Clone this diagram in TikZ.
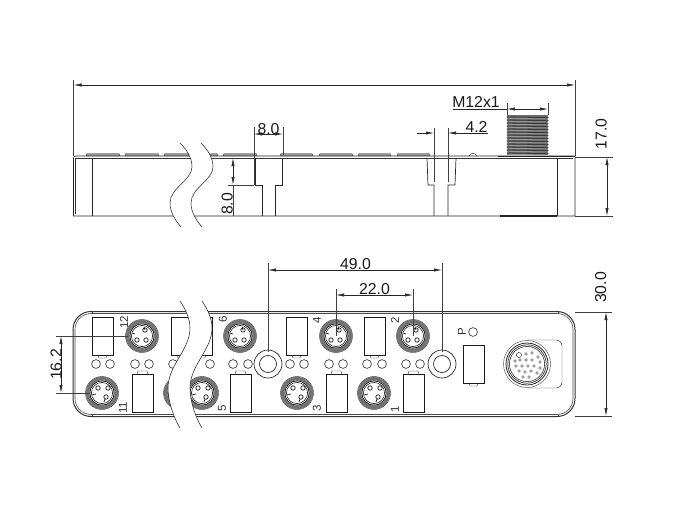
\documentclass[tikz,border=0pt]{standalone}
\usepackage{fontspec}
\setmainfont{Liberation Sans}
\usetikzlibrary{arrows.meta}
\tikzset{
 edge/.style={line width=0.7pt,black!85},
 fine/.style={line width=0.45pt,black!80},
 dimline/.style={line width=0.6pt,black!85,{Latex[length=8pt,width=3.2pt]}-{Latex[length=8pt,width=3.2pt]}},
 onearrow/.style={line width=0.6pt,black!85,-{Latex[length=8pt,width=3.2pt]}},
 extline/.style={line width=0.5pt,black!75},
 dimtext/.style={inner sep=0pt,anchor=base,font=\fontsize{15.8}{16}\selectfont,text=black!90},
 tag/.style={inner sep=0pt,rotate=90,font=\fontsize{11.5}{11.5}\selectfont,text=black!80},
 window/.style={line width=0.9pt,black!90,fill=white},
 ledring/.style={line width=0.6pt,black!85,fill=white},
 breakline/.style={line width=0.55pt,black!85},
}
\newcommand{\topconn}[2]{\begin{scope}[shift={(#1,#2)}]
 \fill[white] (0,0) circle (16.5);
 \draw[line width=3.4pt,black!55] (0,0) circle (14.4);
 \draw[fine] (0,0) circle (16.5);
 \draw[line width=0.8pt,black!90] (0,0) circle (12.2);
 \draw[line width=0.6pt,black!85] (0,0) circle (10.6);
 \foreach \a/\b in {3/-6,-5/4,4/4}{\draw[line width=0.7pt,black!90] (\a,\b) circle (2.2);}
 \draw[line width=0.7pt,black!90] (2,-9) -- (3,-6) (-10,-3) -- (-7,-2);
\end{scope}}
\newcommand{\botconn}[2]{\begin{scope}[shift={(#1,#2)}]
 \fill[white] (0,0) circle (16.5);
 \draw[line width=3.4pt,black!55] (0,0) circle (14.4);
 \draw[fine] (0,0) circle (16.5);
 \draw[line width=0.8pt,black!90] (0,0) circle (12.2);
 \draw[line width=0.6pt,black!85] (0,0) circle (10.6);
 \foreach \a/\b in {6/-5,-4/-5,4/4}{\draw[line width=0.7pt,black!90] (\a,\b) circle (2.2);}
 \draw[line width=0.7pt,black!90] (-10,2) -- (-6,1) (2,9) -- (3,6);
\end{scope}}
\begin{document}
\begin{tikzpicture}[x=1pt,y=-1pt]
\useasboundingbox (0,0) rectangle (690,516);

% ---- side view: pads
\foreach \a/\b in {86/120,125/159,164/189,210/218,223/257,280/313,319/353,358/391,397/430}{
 \fill[black!40] (\a,156) -- (\a+1,153.5) -- (\b-1,153.5) -- (\b,156) -- cycle;
 \draw[fine] (\a,156) -- (\a+1,153.5) -- (\b-1,153.5) -- (\b,156);
}
\draw[fine] (469,156) .. controls (471,152.5) and (475,152.5) .. (477,156);
% thread
\fill[black!58] (507,115.5) rectangle (548,154.5);
\foreach \y in {117,120,...,153}{
 \draw[line width=0.8pt,black!78] (506.5,\y) -- (548.5,\y+0.7);
 \draw[line width=0.5pt,black!30] (509,\y+1.5) -- (546,\y+1.9);
 \fill[white] (506.2,\y+1) -- (507.8,\y+2) -- (506.2,\y+3) -- cycle;
 \fill[white] (548.8,\y+1) -- (547.2,\y+2) -- (548.8,\y+3) -- cycle;
}
% body
\draw[edge] (73.5,216) -- (73.5,158.5) .. controls (73.5,157) and (74.5,156) .. (76,156) -- (575,156) -- (575,216) -- cycle;
\draw[fine] (75.5,158) -- (573,158);
\draw[fine] (75.5,158) -- (75.5,214);
\draw[line width=0.9pt,black!85] (498,156) -- (575,156);
\draw[line width=1.1pt,black!85] (500,216) -- (557,216);
\draw[edge] (92,158) -- (92,216);
\draw[edge] (557,158) -- (557,216);
\draw[edge] (255,158) -- (255,185) -- (262,185) -- (262,216);
\draw[edge] (282,158) -- (282,185) -- (275,185) -- (275,216);
\draw[edge] (427,158) -- (428,185) -- (434,185) -- (434,216);
\draw[edge] (456,158) -- (455,185) -- (448,185) -- (448,216);

% side break
\fill[white] (180,143) .. controls (187,150) and (192,158) .. (192,167) .. controls (192,180) and (170,188) .. (170,203) .. controls (170,212) and (175,220) .. (181,227)
 -- (202,227) .. controls (196,220) and (191,212) .. (191,203) .. controls (191,188) and (213,180) .. (213,167) .. controls (213,158) and (208,150) .. (201,143) -- cycle;
\draw[breakline] (180,143) .. controls (187,150) and (192,158) .. (192,167) .. controls (192,180) and (170,188) .. (170,203) .. controls (170,212) and (175,220) .. (181,227);
\draw[breakline] (201,143) .. controls (208,150) and (213,158) .. (213,167) .. controls (213,180) and (191,188) .. (191,203) .. controls (191,212) and (196,220) .. (202,227);

% side dims
\coordinate (ovL) at (73.5,85); \coordinate (ovR) at (575,85);
\draw[extline] (73.5,80) -- (73.5,156);
\draw[extline] (575,80) -- (575,156);
\draw[dimline] (ovL) -- (ovR);
% 8.0 width
\coordinate (wL) at (254,134); \coordinate (wR) at (283,134);
\draw[extline] (254,127) -- (254,185);
\draw[extline] (283,127) -- (283,155);
\draw[dimline] (wL) -- (wR);
\node[dimtext] (t8a) at (268.5,134) {8.0};
% 8.0 depth
\coordinate (dT) at (233,158); \coordinate (dB) at (233,185);
\draw[dimline] (dT) -- (dB);
\draw[extline] (233,185) -- (233,216);
\draw[extline] (228,185) -- (254,185);
\node[dimtext,rotate=90] (t8b) at (232.5,204) {8.0};
% 4.2
\coordinate (fL) at (417,133); \coordinate (fLt) at (434,133);
\coordinate (fR) at (488,133); \coordinate (fRt) at (448,133);
\draw[extline] (434,128) -- (434,182);
\draw[extline] (448,128) -- (448,182);
\draw[onearrow] (fL) -- (fLt);
\draw[onearrow] (fR) -- (fRt);
\node[dimtext] (t42) at (476.5,132) {4.2};
% M12x1
\coordinate (mL) at (507,109); \coordinate (mR) at (548,109); \coordinate (mE) at (453,109);
\draw[extline] (507,103) -- (507,115);
\draw[extline] (548,103) -- (548,115);
\draw[dimline] (mL) -- (mR);
\draw[line width=0.6pt,black!85] (mE) -- (mL);
\node[dimtext] (tm) at (476,108) {M12x1};
% 17.0
\coordinate (hT) at (607,157); \coordinate (hB) at (607,216);
\draw[extline] (575,157) -- (613,157);
\draw[extline] (575,216) -- (613,216);
\draw[dimline] (hT) -- (hB);
\node[dimtext,rotate=90] (t17) at (606.5,134) {17.0};

% ---- front view
\draw[line width=1.0pt,black!80,rounded corners=18pt] (73,311.5) rectangle (575,416.5);
\draw[line width=0.6pt,black!70,rounded corners=16pt] (75,313.5) rectangle (573,414.5);
\draw[fine] (92,311.5) -- (92,313.5) (92,414.5) -- (92,416.5) (558,311.5) -- (558,313.5) (558,414.5) -- (558,416.5);

% windows
\foreach \a in {92,171,191,286,364,463}{
 \ifnum\a=463\relax
  \draw[fine] (\a+6,383) -- (\a+7,386) -- (\a+14,386) -- (\a+15,383);
  \draw[window] (\a,345) rectangle (\a+21,383);
 \else
  \draw[fine] (\a+6,355) -- (\a+7,358) -- (\a+14,358) -- (\a+15,355);
  \draw[window] (\a,317) rectangle (\a+21,355);
 \fi
}
\foreach \a in {132,230,326,403}{
 \draw[fine] (\a+5,374) -- (\a+6,371) -- (\a+15,371) -- (\a+16,374);
 \draw[window] (\a,374) rectangle (\a+21,412);
}
% LEDs
\foreach \a in {96,110,135,149,173,210,233,248,290,304,329,343,367,382,406,420}{
 \draw[ledring] (\a,364) circle (4.4);
}
\draw[ledring] (473,332) circle (4.4);
% mounting holes
\foreach \a in {268,442}{
 \draw[line width=0.7pt,black!85,fill=white] (\a,364) circle (14);
 \draw[line width=0.7pt,black!85] (\a,364) circle (8.5);
}
% M12 sockets
\topconn{142}{336}\topconn{240}{336}\topconn{336}{336}\topconn{413}{336}
\botconn{102}{393}\botconn{180}{393}\botconn{202}{393}\botconn{297}{393}\botconn{374}{393}

% large connector
\draw[fine,rounded corners=6pt] (527,340) -- (562,340) -- (562,388) -- (527,388);
\fill[white] (527,364) circle (23.5);
\draw[line width=0.45pt,black!70] (527,364) circle (23.5);
\draw[line width=0.8pt,black!85] (527,364) circle (21);
\draw[line width=0.7pt,black!80] (527,364) circle (19.2);
\draw[line width=0.6pt,black!80] (527,364) circle (17.6);
\draw[fine] (519,355) circle (2.6);
\foreach \a/\b in {-1/-10,5/-11,11/-7,-7/-4,-1/-4,5/-4,13/-2,-11/2,-5/2,1/2,7/2,13/4,-8/7,-2/8,4/7,10/9,-4/13,2/13,-12/-3}{
 \draw[line width=0.4pt,black!75] (527+\a,364+\b) circle (1.4);
}

% labels on the plate
\node[tag] (n12) at (124,322) {12};
\node[tag] (n11) at (123,408) {11};
\node[tag] (n6) at (223,319) {6};
\node[tag] (n5) at (222,408) {5};
\node[tag] (n4) at (317,320) {4};
\node[tag] (n2) at (395,320) {2};
\node[tag] (n3) at (317,408) {3};
\node[tag] (n1) at (395,409) {1};
\node[tag] (nP) at (462,332) {P};

% front break
\fill[white] (180,301) .. controls (186,310) and (190,319) .. (190,328) .. controls (190,350) and (168,365) .. (168,388) .. controls (168,402) and (174,418) .. (180,428)
 -- (202,428) .. controls (196,418) and (190,402) .. (190,388) .. controls (190,365) and (212,350) .. (212,328) .. controls (212,319) and (208,310) .. (202,301) -- cycle;
\draw[breakline] (180,301) .. controls (186,310) and (190,319) .. (190,328) .. controls (190,350) and (168,365) .. (168,388) .. controls (168,402) and (174,418) .. (180,428);
\draw[breakline] (202,301) .. controls (208,310) and (212,319) .. (212,328) .. controls (212,350) and (190,365) .. (190,388) .. controls (190,402) and (196,418) .. (202,428);

% front dims
\coordinate (aL) at (268,270); \coordinate (aR) at (442,270);
\draw[extline] (268,263) -- (268,352);
\draw[extline] (442,263) -- (442,352);
\draw[dimline] (aL) -- (aR);
\node[dimtext] (t49) at (355.5,269.5) {49.0};
\coordinate (bL) at (336,295); \coordinate (bR) at (413,295);
\draw[extline] (336,289) -- (336,336);
\draw[extline] (413,289) -- (413,336);
\draw[dimline] (bL) -- (bR);
\node[dimtext] (t22) at (374.5,294.5) {22.0};
\coordinate (cT) at (61,336); \coordinate (cB) at (61,393);
\draw[extline] (56,336) -- (128,336);
\draw[extline] (56,393) -- (90,393);
\draw[dimline] (cT) -- (cB);
\node[dimtext,rotate=90] (t16) at (61.5,364.5) {16.2};
\coordinate (eT) at (606,312); \coordinate (eB) at (606,416);
\draw[extline] (575,312) -- (612,312);
\draw[extline] (575,416) -- (612,416);
\draw[dimline] (eT) -- (eB);
\node[dimtext,rotate=90] (t30) at (606,287.5) {30.0};
\end{tikzpicture}
\end{document}
